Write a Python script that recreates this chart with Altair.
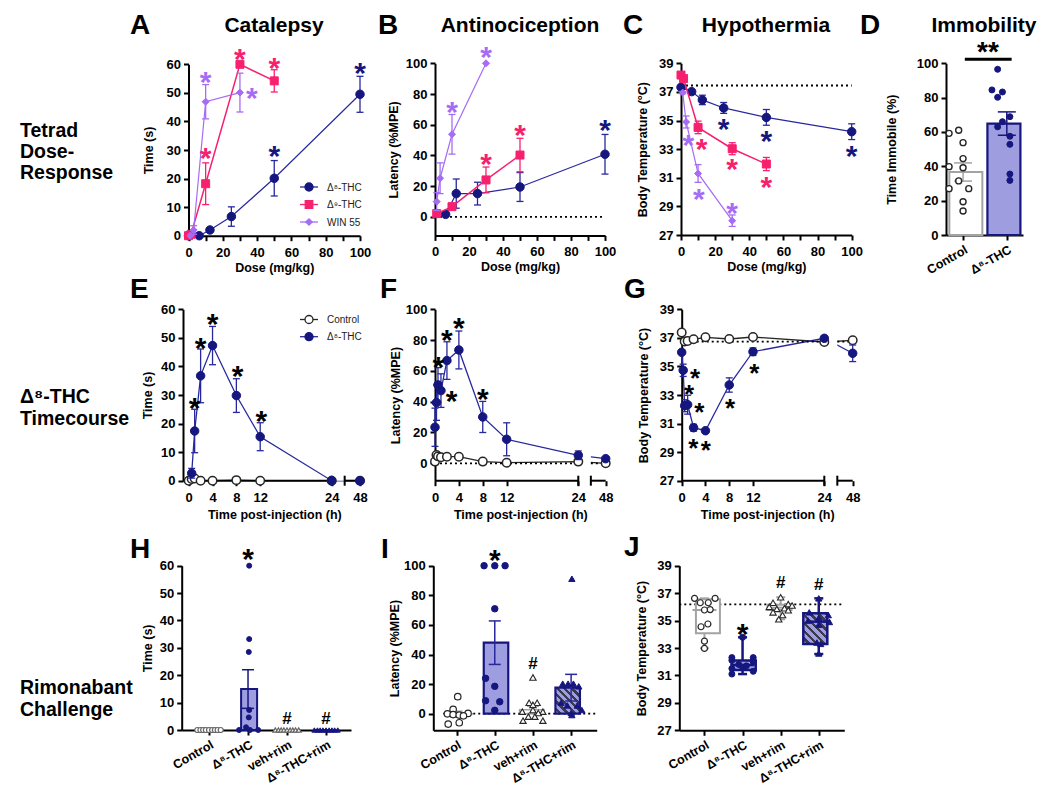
import altair as alt
import pandas as pd

# ======================================================================
# DATA
# ======================================================================
A_d8_dose = [0, 6.25, 12.5, 25, 50, 100]
A_d8_mean = [0, 0, 2.0, 6.7, 20.1, 49.5]
A_d8_sem = [0, 0, 0.4, 3.4, 6.2, 6.3]
A_d9_dose = [0, 1.5, 10, 30, 50]
A_d9_mean = [0, 0.5, 18.2, 60.0, 54.2]
A_d9_sem = [0, 0, 7.3, 0, 3.9]
A_win_dose = [1, 3, 10, 30]
A_win_mean = [0, 2.0, 46.9, 50.1]
A_win_sem = [0, 1.5, 6.0, 6.8]
A_star_d8_x, A_star_d8_y = [50, 100], [30.3, 59.5]
A_star_d9_x, A_star_d9_y = [10, 30, 50], [29.5, 64.4, 61.3]
A_star_win_x, A_star_win_y = [10, 37], [56.3, 50.8]

B_d8_dose = [6.25, 12.5, 25, 50, 100]
B_d8_mean = [1.7, 15.2, 15.2, 19.5, 40.8]
B_d8_sem = [0.5, 9.5, 7.4, 9.4, 12.9]
B_d9_dose = [1, 10, 30, 50]
B_d9_mean = [2.2, 6.7, 24.1, 40.3]
B_d9_sem = [0, 1.5, 8.4, 10.9]
B_win_dose = [1, 3, 10, 30]
B_win_mean = [10.0, 25.2, 53.8, 100.0]
B_win_sem = [5.8, 10.0, 12.9, 0]
B_star_d8_x, B_star_d8_y = [100], [61.0]
B_star_d9_x, B_star_d9_y = [30, 50], [39.3, 57.7]
B_star_win_x, B_star_win_y = [10, 30], [72.9, 108.7]

C_d8_dose = [0, 6.25, 12.5, 25, 50, 100]
C_d8_mean = [37.32, 37.02, 36.44, 35.88, 35.22, 34.22]
C_d8_sem = [0.08, 0.08, 0.33, 0.38, 0.55, 0.55]
C_d9_dose = [0, 1.5, 10, 30, 50]
C_d9_mean = [38.18, 37.93, 34.52, 33.03, 31.96]
C_d9_sem = [0.08, 0.08, 0.44, 0.42, 0.46]
C_win_dose = [1, 3, 10, 30]
C_win_mean = [36.95, 34.9, 31.3, 28.0]
C_win_sem = [0.08, 0.42, 0.62, 0.4]
C_baseline = 37.45
C_star_d8_x, C_star_d8_y = [25, 50, 100], [34.9, 34.04, 33.0]
C_star_d9_x, C_star_d9_y = [12, 30, 50], [33.5, 32.1, 30.85]
C_star_win_x, C_star_win_y = [4.3, 10.5, 30], [33.75, 30.0, 29.0]

D_groups = ["Control", "Δ⁸-THC"]
D_mean = [36.7, 64.9]
D_sem = [5.3, 6.8]
D_ctrl = [59.2, 61.0, 53.8, 44.5, 39.8, 39.2, 31.5, 27.0, 27.0, 19.4, 14.0]
D_ctrl_jit = [-0.32, -0.1, 0.0, 0.0, -0.32, 0.0, -0.1, -0.32, 0.13, 0.0, 0.0]
D_thc = [96.5, 84.5, 83.3, 80.2, 68.9, 66.0, 63.0, 57.5, 52.8, 35.5, 31.8]
D_thc_jit = [-0.21, -0.34, -0.1, -0.21, 0.07, -0.1, -0.21, 0.07, 0.07, 0.07, 0.07]
D_sig_y = 102.3
D_sig_label_y = 110.2

TIME_TICKS = [0, 4, 8, 12, 24, 48]
E_d8_t = [0.5, 1, 2, 4, 8, 12, 24, 48]
E_d8_mean = [2.6, 17.4, 36.7, 47.3, 29.8, 15.4, 0, 0]
E_d8_sem = [1.7, 7.6, 9.4, 6.7, 5.9, 4.9, 0, 0]
E_ct_t = [0, 0.5, 1, 2, 4, 8, 12, 24, 48]
E_ct_mean = [0, 0.6, 0.8, 0, 0, 0.2, 0, 0, 0]
E_ct_sem = [0, 0, 0, 0, 0, 0, 0, 0, 0]
E_star_x, E_star_y = [1, 2, 4, 8.2, 12.2], [27.9, 48.9, 57.4, 39.0, 23.3]

F_d8_t = [0, 0.25, 0.5, 1, 2, 4, 8, 12, 24, 48]
F_d8_mean = [23.4, 39.4, 50.9, 47.2, 66.7, 73.6, 30.1, 15.6, 5.2, 3.0]
F_d8_sem = [12.4, 11.5, 11.2, 10.9, 12.2, 12.3, 10.1, 10.7, 2.8, 0.6]
F_ct_t = [0, 0.25, 0.5, 1, 2, 4, 8, 12, 24, 48]
F_ct_mean = [1.1, 5.4, 4.5, 3.9, 4.3, 4.3, 1.1, 0.4, 1.1, 0]
F_ct_sem = [0, 0, 0, 0, 0, 0, 0, 0, 0, 0]
F_star_x, F_star_y = [0.56, 2.0, 4.0, 2.8, 8.0], [67.1, 84.8, 92.6, 45.0, 46.5]

G_d8_t = [0, 0.25, 0.5, 1, 2, 4, 8, 12, 24, 48]
G_d8_mean = [35.99, 34.73, 32.25, 32.32, 30.71, 30.5, 33.7, 36.03, 36.97, 35.92]
G_d8_sem = [0.05, 0.43, 0.42, 0.66, 0.24, 0.08, 0.5, 0.26, 0.08, 0.58]
G_ct_t = [0, 0.5, 1, 2, 4, 8, 12, 24, 48]
G_ct_mean = [37.37, 36.75, 36.78, 36.9, 37.04, 36.92, 37.06, 36.71, 36.83]
G_ct_sem = [0, 0, 0, 0, 0, 0, 0, 0, 0]
G_baseline = 36.74
G_star_x = [2.24, 1.23, 2.97, 1.96, 4.04, 8.13, 12.2]
G_star_y = [34.6, 33.47, 32.25, 29.68, 29.54, 32.53, 34.98]

RIM_groups = ["Control", "Δ⁸-THC", "veh+rim", "Δ⁸-THC+rim"]
H_mean = [0, 14.96, 0, 0]
H_sem = [0, 7.05, 0, 0]
H_ctrl = [0, 0, 0, 0, 0, 0, 0, 0, 0]
H_ctrl_jit = [-0.3, -0.22, -0.15, -0.08, 0.0, 0.08, 0.15, 0.22, 0.3]
H_thc = [60, 33.2, 28.5, 7.3, 4.6, 1.0, 0, 0, 0]
H_thc_jit = [0.03, 0.03, 0.02, 0.03, 0.02, -0.05, -0.23, 0.05, 0.26]
H_veh = [0, 0, 0, 0, 0, 0, 0, 0, 0]
H_veh_jit = [-0.3, -0.22, -0.15, -0.08, 0.0, 0.08, 0.15, 0.22, 0.3]
H_thcrim = [0, 0, 0, 0, 0, 0, 0, 0, 0]
H_thcrim_jit = [-0.3, -0.22, -0.15, -0.08, 0.0, 0.08, 0.15, 0.22, 0.3]
H_star = (1, 65.1)
H_hash_x, H_hash_y = [2, 3], [4.5, 4.5]

I_mean = [-0.2, 48.0, 2.6, 17.6]
I_sem = [1.9, 14.7, 2.4, 9.0]
I_ctrl = [11.5, 2.9, 0.2, -0.1, -0.6, -0.9, -1.4, -6.1, -7.0]
I_ctrl_jit = [0.03, -0.09, 0.3, -0.24, -0.09, 0.07, 0.18, 0.07, -0.22]
I_thc = [100, 100, 100, 70.9, 23.9, 18.5, 8.8, 8.1, 2.3]
I_thc_jit = [-0.28, 0.0, 0.27, 0.0, -0.24, 0.0, -0.24, 0.13, 0.0]
I_veh = [24.5, 7.4, 7.4, 6.0, 2.5, 1.4, 1.4, 0.5, -2.0, -2.0, -4.7, -4.7]
I_veh_jit = [0.0, -0.1, 0.11, 0.0, 0.0, -0.28, 0.26, 0.14, -0.12, 0.05, -0.26, 0.26]
I_thcrim = [91.2, 20.3, 20.3, 20.3, 18.5, 7.5, 5.6, 5.6, 2.5, 0.5, -0.9]
I_thcrim_jit = [0.02, -0.22, -0.08, 0.06, 0.2, -0.26, -0.1, 0.16, 0.28, 0.0, 0.02]
I_star = (1, 108.8)
I_hash = (2, 34.0)

J_q1 = [34.07, 31.4, 35.77, 33.29]
J_med = [35.77, 31.76, 35.94, 34.92]
J_q3 = [36.55, 32.08, 36.16, 35.53]
J_min = [32.98, 31.1, 35.09, 32.56]
J_max = [36.62, 33.78, 36.7, 36.62]
J_ctrl = [36.62, 36.3, 36.3, 36.62, 35.8, 35.77, 34.55, 34.75, 33.5, 32.97]
J_ctrl_jit = [-0.26, -0.11, 0.1, 0.28, 0.15, 0.0, -0.09, 0.09, 0.0, 0.0]
J_thc = [33.78, 32.3, 32.3, 32.1, 32.0, 31.8, 31.7, 31.6, 31.5, 31.3, 31.1]
J_thc_jit = [0.0, -0.28, 0.28, -0.28, 0.28, -0.1, 0.1, 0.0, -0.28, 0.28, -0.28]
J_veh = [36.7, 36.3, 36.2, 36.1, 36.0, 35.9, 35.85, 35.75, 35.6, 35.4, 35.1]
J_veh_jit = [0.0, -0.2, 0.2, 0.3, -0.3, 0.1, -0.1, 0.2, -0.2, 0.05, -0.05]
J_thcrim = [36.62, 35.6, 35.4, 35.2, 35.0, 34.9, 34.7, 33.4, 33.3, 32.6]
J_thcrim_jit = [0.0, -0.25, 0.25, 0.0, -0.28, 0.28, 0.0, -0.05, 0.05, 0.0]
J_baseline = 36.18
J_star = (1, 34.55)
J_hash_x, J_hash_y = [2, 3], [37.79, 37.66]

# ======================================================================
# STYLE / LAYOUT
# ======================================================================
W, H = 1034, 777
M = 8
FONT = "Liberation Sans"
NAVY = "#16167f"
NAVY_LINE = "#28289e"
PINK = "#f7206f"
PURPLE = "#a66cf4"
LAV = "#9d9ddf"
HATCH_DARK = "#3a3a4c"
GRAY = "#a3a3a3"
DARK = "#262626"
STAR_FS = 30
STAR_DY = 8
HASH_FS = 17

ONE = pd.DataFrame({"k": [0]})


def P(v):
    return v - M


AXIS_STYLE = dict(grid=False, domainColor="black", domainWidth=2, tickColor="black", tickWidth=2,
                  tickSize=5, labelFont=FONT, labelFontWeight="bold", labelFontSize=13,
                  labelColor="black", titleFont=FONT, titleFontWeight="bold", titleFontSize=12.5,
                  titleColor="black", labelFlush=False, labelOverlap=False)


def xax(title, values, axis_y, **kw):
    st = dict(AXIS_STYLE, labelPadding=5.5, titlePadding=2)
    st.update(kw)
    return alt.Axis(title=title, values=values, orient="bottom", offset=P(axis_y) - H, **st)


def yax(title, values, axis_x, **kw):
    st = dict(AXIS_STYLE, labelPadding=3, titlePadding=6)
    st.update(kw)
    return alt.Axis(title=title, values=values, orient="left", offset=-P(axis_x), **st)


class Panel:
    def __init__(self, xdom, xpx, ydom, ypx):
        self.xdom, self.ydom = xdom, ydom
        self.xsc = alt.Scale(domain=xdom, range=[P(v) for v in xpx], nice=False, zero=False)
        self.ysc = alt.Scale(domain=ydom, range=[P(v) for v in ypx], nice=False, zero=False)
        self.layers = []

    def X(self, f="x", axis=None):
        return alt.X(f, type="quantitative", scale=self.xsc, axis=axis)

    def Y(self, f="y", axis=None):
        return alt.Y(f, type="quantitative", scale=self.ysc, axis=axis)

    def add(self, *cs):
        for c in cs:
            if isinstance(c, list):
                self.layers.extend(c)
            else:
                self.layers.append(c)

    def axes(self, xaxis, yaxis):
        df = pd.DataFrame({"x": [self.xdom[0]], "y": [self.ydom[0]]})
        self.add(alt.Chart(df).mark_point(opacity=0).encode(x=self.X("x", xaxis), y=self.Y("y", yaxis)))


def errbars(pn, df, color, cap, w=1.3):
    if len(df) == 0:
        return []
    return [
        alt.Chart(df).mark_rule(color=color, strokeWidth=w).encode(x=pn.X(), y=pn.Y("lo"), y2="hi"),
        alt.Chart(df).mark_tick(orient="horizontal", size=cap, thickness=w, color=color, opacity=1)
        .encode(x=pn.X(), y=pn.Y("lo")),
        alt.Chart(df).mark_tick(orient="horizontal", size=cap, thickness=w, color=color, opacity=1)
        .encode(x=pn.X(), y=pn.Y("hi")),
    ]


def series(pn, xs, means, sems, color, shape, size, fill=None, stroke=None, line_color=None,
           line_w=1.3, sw=1.0, cap=7, err_color=None):
    df = pd.DataFrame({"x": xs, "y": means,
                       "lo": [m - s for m, s in zip(means, sems)],
                       "hi": [m + s for m, s in zip(means, sems)], "s": sems})
    line = alt.Chart(df).mark_line(color=line_color or color, strokeWidth=line_w).encode(x=pn.X(), y=pn.Y())
    errs = errbars(pn, df[df.s > 0], err_color or line_color or color, cap)
    pts = alt.Chart(df).mark_point(shape=shape, size=size, filled=True, fill=fill or color,
                                   stroke=stroke or color, strokeWidth=sw, opacity=1
                                   ).encode(x=pn.X(), y=pn.Y())
    return line, errs, pts


def sym_text(pn, xs, ys, sym, color="black", size=STAR_FS, dy=STAR_DY):
    df = pd.DataFrame({"x": xs, "y": ys})
    return alt.Chart(df).mark_text(text=sym, font=FONT, fontWeight="bold", fontSize=size, color=color,
                                   baseline="middle", align="center", dy=dy).encode(x=pn.X(), y=pn.Y())


def hline(pn, x0, x1, y, dash=True, width=1.8, color="black"):
    df = pd.DataFrame({"x": [x0], "x2": [x1], "y": [y]})
    kw = dict(color=color, strokeWidth=width)
    if dash:
        kw["strokeDash"] = [2, 3]
    return alt.Chart(df).mark_rule(**kw).encode(x=pn.X("x"), x2="x2", y=pn.Y("y"))


def bars(pn, cats, means, width, fill, stroke, sw):
    df = pd.DataFrame({"x": cats, "y": means, "b": [0 for _ in cats]})
    return alt.Chart(df).mark_bar(size=width, fill=fill, stroke=stroke, strokeWidth=sw, opacity=1
                                  ).encode(x=pn.X(), y=pn.Y(), y2="b")


def scatter(pn, cat, vals, jit, shape, size, fill, stroke, sw=1.2):
    df = pd.DataFrame({"x": [cat + j for j in jit], "y": vals})
    return alt.Chart(df).mark_point(shape=shape, size=size, filled=True, fill=fill, stroke=stroke,
                                    strokeWidth=sw, opacity=1).encode(x=pn.X(), y=pn.Y())


def bar_err(pn, cats, means, sems, color, cap):
    df = pd.DataFrame({"x": cats, "lo": [m - s for m, s in zip(means, sems)],
                       "hi": [m + s for m, s in zip(means, sems)], "s": sems})
    return errbars(pn, df[df.s > 0], color, cap, 1.5)


def hatch(w, h, period=5.2, c1=LAV, c2=HATCH_DARK):
    k = max(1, round(((w + h) / 2 ** 0.5) / period))
    stops = []
    for i in range(k):
        a, b, c = i / k, (i + 0.55) / k, (i + 1) / k
        stops += [alt.GradientStop(offset=a, color=c1), alt.GradientStop(offset=b, color=c1),
                  alt.GradientStop(offset=b, color=c2), alt.GradientStop(offset=c, color=c2)]
    t = (w + h) / (w * w + h * h)
    return alt.LinearGradient(gradient="linear", stops=stops, x1=0, y1=1, x2=w * t, y2=1 - h * t)


def label(s, x, y, size, weight="bold", align="left", baseline="alphabetic", color="black",
          line_height=None):
    kw = dict(text=s, font=FONT, fontSize=size, fontWeight=weight, align=align, baseline=baseline,
              color=color)
    if line_height:
        kw["lineHeight"] = line_height
    return alt.Chart(ONE).mark_text(**kw).encode(x=alt.value(P(x)), y=alt.value(P(y)))


def legend_entry(x0, x1, y, text, shape, size, fill, stroke, line_color):
    rule = alt.Chart(ONE).mark_rule(color=line_color, strokeWidth=1.3).encode(
        x=alt.value(P(x0)), x2=alt.value(P(x1)), y=alt.value(P(y)))
    pt = alt.Chart(ONE).mark_point(shape=shape, size=size, filled=True, fill=fill, stroke=stroke,
                                   strokeWidth=1.3, opacity=1).encode(
        x=alt.value(P((x0 + x1) / 2)), y=alt.value(P(y)))
    tx = label(text, x1 + 9, y + 0.5, 10, weight="normal", baseline="middle", color="#222222")
    return [rule, pt, tx]


DOSE_TICKS = list(range(0, 101, 10))
DOSE_EXPR = "datum.value % 20 == 0 ? datum.label : ''"
RIM_EXPR = "['Control','Δ⁸-THC','veh+rim','Δ⁸-THC+rim'][datum.value]"
ROT = dict(labelAngle=-30, labelAlign="right", labelBaseline="top", labelPadding=3, labelFontSize=12.5)

panels = []

# ---------------------------------------------------------------- A
pa = Panel([0, 100], [188.5, 360], [0, 60], [235.7, 64.3])
pa.axes(xax("Dose (mg/kg)", DOSE_TICKS, 235.7, labelExpr=DOSE_EXPR),
        yax("Time (s)", list(range(0, 61, 10)), 188.5, titlePadding=11))
for d in [series(pa, A_d8_dose, A_d8_mean, A_d8_sem, NAVY, "circle", 72, line_color=NAVY_LINE, line_w=1.2),
          series(pa, A_d9_dose, A_d9_mean, A_d9_sem, PINK, "square", 64, line_w=1.5),
          series(pa, A_win_dose, A_win_mean, A_win_sem, PURPLE, "diamond", 49, line_w=1.2)]:
    pa.add(d[0], d[1], d[2])
pa.add(sym_text(pa, A_star_d8_x, A_star_d8_y, "*", NAVY),
       sym_text(pa, A_star_d9_x, A_star_d9_y, "*", PINK),
       sym_text(pa, A_star_win_x, A_star_win_y, "*", PURPLE))
panels.append(pa)

# ---------------------------------------------------------------- B
pb = Panel([0, 100], [435, 605], [-12, 100], [235.4, 63.3])
pb.axes(xax("Dose (mg/kg)", DOSE_TICKS, 235.4, labelExpr=DOSE_EXPR),
        yax("Latency (%MPE)", list(range(0, 101, 20)), 435, titlePadding=5))
pb.add(hline(pb, 0, 100, 0))
for d in [series(pb, B_d8_dose, B_d8_mean, B_d8_sem, NAVY, "circle", 72, line_color=NAVY_LINE, line_w=1.2),
          series(pb, B_d9_dose, B_d9_mean, B_d9_sem, PINK, "square", 64, line_w=1.5),
          series(pb, B_win_dose, B_win_mean, B_win_sem, PURPLE, "diamond", 49, line_w=1.2)]:
    pb.add(d[0], d[1], d[2])
pb.add(sym_text(pb, B_star_d8_x, B_star_d8_y, "*", NAVY),
       sym_text(pb, B_star_d9_x, B_star_d9_y, "*", PINK),
       sym_text(pb, B_star_win_x, B_star_win_y, "*", PURPLE))
panels.append(pb)

# ---------------------------------------------------------------- C
pc = Panel([0, 100], [681, 851.7], [27, 39], [235, 63.3])
pc.axes(xax("Dose (mg/kg)", DOSE_TICKS, 235, labelExpr=DOSE_EXPR),
        yax("Body Temperature (°C)", list(range(27, 40, 2)), 681, titlePadding=9))
pc.add(hline(pc, 0, 100, C_baseline))
for d in [series(pc, C_d8_dose, C_d8_mean, C_d8_sem, NAVY, "circle", 72, line_color=NAVY_LINE, line_w=1.2),
          series(pc, C_d9_dose, C_d9_mean, C_d9_sem, PINK, "square", 64, line_w=1.5),
          series(pc, C_win_dose, C_win_mean, C_win_sem, PURPLE, "diamond", 49, line_w=1.2)]:
    pc.add(d[0], d[1], d[2])
pc.add(sym_text(pc, C_star_d8_x, C_star_d8_y, "*", NAVY),
       sym_text(pc, C_star_d9_x, C_star_d9_y, "*", PINK),
       sym_text(pc, C_star_win_x, C_star_win_y, "*", PURPLE))
panels.append(pc)

# ---------------------------------------------------------------- D
pd_ = Panel([-0.39, 1.37], [946, 1023], [0, 100], [235, 63.3])
pd_.axes(xax("", [0, 1], 235, labelExpr="datum.value == 0 ? 'Control' : 'Δ⁸-THC'", **ROT),
         yax("Time Immobile (%)", list(range(0, 101, 20)), 946, titlePadding=18))
pd_.add(bars(pd_, [0], [D_mean[0]], 33, "white", GRAY, 2),
        bars(pd_, [1], [D_mean[1]], 33, LAV, NAVY, 2.2),
        bar_err(pd_, [0], [D_mean[0]], [D_sem[0]], GRAY, 18),
        bar_err(pd_, [1], [D_mean[1]], [D_sem[1]], NAVY, 18),
        scatter(pd_, 0, D_ctrl, D_ctrl_jit, "circle", 36, "white", DARK, 1.4),
        scatter(pd_, 1, D_thc, D_thc_jit, "circle", 36, NAVY, NAVY, 1),
        hline(pd_, 0.04, 1.11, D_sig_y, dash=False, width=3),
        sym_text(pd_, [0.57], [D_sig_label_y], "**", size=28, dy=7))
panels.append(pd_)


# ---------------------------------------------------------------- E/F/G (time courses)
def timecourse(pn, axis_start, baseline=None):
    y0 = pn.ydom[0]
    seg = pd.DataFrame({"x": [axis_start, 35], "x2": [24, 48], "y": [y0, y0]})
    gap = pd.DataFrame({"x": [25], "x2": [35], "y": [pn.ydom[0]], "y2": [pn.ydom[1]]})
    ends = pd.DataFrame({"x": [24, 35], "y": [y0, y0]})
    layers = [alt.Chart(gap).mark_rect(color="white", opacity=1).encode(x=pn.X("x"), x2="x2", y=pn.Y("y"), y2="y2")]
    if baseline is not None:
        layers.append(hline(pn, 0, 24, baseline))
        layers.append(hline(pn, 35, 48, baseline))
    layers.append(alt.Chart(seg).mark_rule(color="black", strokeWidth=2).encode(x=pn.X("x"), x2="x2", y=pn.Y("y")))
    layers.append(alt.Chart(ends).mark_tick(orient="vertical", size=10, thickness=2, color="black", opacity=1)
                  .encode(x=pn.X(), y=pn.Y()))
    return layers


def add_timecourse(pn, ct, d8, axis_start, baseline, stars):
    c_line, c_err, c_pts = ct
    d_line, d_err, d_pts = d8
    pn.add(c_line, d_line)
    pn.add(timecourse(pn, axis_start, baseline))
    pn.add(c_err, c_pts, d_err, d_pts, stars)


TP = dict(domain=False, titlePadding=4, labelPadding=6)

pe = Panel([0, 24, 48], [188.7, 331.7, 360], [0, 60], [480.7, 309.3])
pe.axes(xax("Time post-injection (h)", TIME_TICKS, 480.7, **TP),
        yax("Time (s)", list(range(0, 61, 10)), 183, titlePadding=6))
add_timecourse(pe,
               series(pe, E_ct_t, E_ct_mean, E_ct_sem, "white", "circle", 72, fill="white", stroke=DARK,
                      line_color=DARK, sw=1.5),
               series(pe, E_d8_t, E_d8_mean, E_d8_sem, NAVY, "circle", 72, line_color=NAVY_LINE),
               -0.96, None, sym_text(pe, E_star_x, E_star_y, "*"))
pe.add(legend_entry(300, 318, 319.5, "Control", "circle", 64, "white", DARK, DARK))
pe.add(legend_entry(300, 318, 336.7, "Δ⁸-THC", "circle", 64, NAVY, NAVY, NAVY_LINE))
panels.append(pe)

pf = Panel([0, 24, 48], [435, 578.3, 605.7], [-11.3, 100], [480.7, 309.3])
pf.axes(xax("Time post-injection (h)", TIME_TICKS, 480.7, **TP),
        yax("Latency (%MPE)", list(range(0, 101, 20)), 435, titlePadding=3))
add_timecourse(pf,
               series(pf, F_ct_t, F_ct_mean, F_ct_sem, "white", "circle", 72, fill="white", stroke=DARK,
                      line_color=DARK, sw=1.5),
               series(pf, F_d8_t, F_d8_mean, F_d8_sem, NAVY, "circle", 72, line_color=NAVY_LINE),
               0, 0, sym_text(pf, F_star_x, F_star_y, "*"))
panels.append(pf)

pg = Panel([0, 24, 48], [681.7, 824.3, 852.7], [27, 39], [480.7, 309.3])
pg.axes(xax("Time post-injection (h)", TIME_TICKS, 480.7, **TP),
        yax("Body Temperature (°C)", list(range(27, 40, 2)), 681.7, titlePadding=9))
add_timecourse(pg,
               series(pg, G_ct_t, G_ct_mean, G_ct_sem, "white", "circle", 72, fill="white", stroke=DARK,
                      line_color=DARK, sw=1.5),
               series(pg, G_d8_t, G_d8_mean, G_d8_sem, NAVY, "circle", 72, line_color=NAVY_LINE),
               0, G_baseline, sym_text(pg, G_star_x, G_star_y, "*", size=26, dy=7))
panels.append(pg)

# ---------------------------------------------------------------- H
ph = Panel([-0.7, 3.64], [181.7, 351], [0, 60], [730, 565.7])
ph.axes(xax("", [0, 1, 2, 3], 730, labelExpr=RIM_EXPR, **ROT),
        yax("Time (s)", list(range(0, 61, 10)), 181.7, titlePadding=5))
ph.add(bars(ph, [0, 2], [H_mean[0], H_mean[2]], 16, "white", GRAY, 1.5),
       bars(ph, [1, 3], [H_mean[1], H_mean[3]], 16, LAV, NAVY, 2),
       bar_err(ph, [0, 1, 2, 3], H_mean, H_sem, NAVY, 12),
       scatter(ph, 0, H_ctrl, H_ctrl_jit, "circle", 25, "white", "#666666", 1.2),
       scatter(ph, 1, H_thc, H_thc_jit, "circle", 25, NAVY, NAVY, 1),
       scatter(ph, 2, H_veh, H_veh_jit, "triangle-up", 25, "white", "#666666", 1.2),
       scatter(ph, 3, H_thcrim, H_thcrim_jit, "triangle-up", 25, NAVY, NAVY, 1),
       sym_text(ph, [H_star[0]], [H_star[1]], "*"),
       sym_text(ph, H_hash_x, H_hash_y, "#", size=HASH_FS, dy=1))
panels.append(ph)

# ---------------------------------------------------------------- I
pi = Panel([-0.61, 3.67], [433.3, 596.7], [-11.2, 100], [730.3, 565.7])
pi.axes(xax("", [0, 1, 2, 3], 730.3, labelExpr=RIM_EXPR, **ROT),
        yax("Latency (%MPE)", list(range(0, 101, 20)), 433.3, titlePadding=2))
pi.add(hline(pi, -0.35, 3.67, 0),
       bars(pi, [0, 2], [I_mean[0], I_mean[2]], 24.5, "white", GRAY, 1.5),
       bars(pi, [1], [I_mean[1]], 24.5, LAV, NAVY, 2.2),
       bars(pi, [3], [I_mean[3]], 24.5, hatch(24.5, 26), NAVY, 2.2),
       bar_err(pi, [0, 2], [I_mean[0], I_mean[2]], [I_sem[0], I_sem[2]], GRAY, 12),
       bar_err(pi, [1, 3], [I_mean[1], I_mean[3]], [I_sem[1], I_sem[3]], NAVY_LINE, 12),
       scatter(pi, 0, I_ctrl, I_ctrl_jit, "circle", 42, "white", DARK, 1.2),
       scatter(pi, 1, I_thc, I_thc_jit, "circle", 42, NAVY, NAVY, 1),
       scatter(pi, 2, I_veh, I_veh_jit, "triangle-up", 40, "white", DARK, 1.1),
       scatter(pi, 3, I_thcrim, I_thcrim_jit, "triangle-up", 40, NAVY, NAVY, 1),
       sym_text(pi, [I_star[0]], [I_star[1]], "*"),
       sym_text(pi, [I_hash[0]], [I_hash[1]], "#", size=HASH_FS, dy=1))
panels.append(pi)

# ---------------------------------------------------------------- J
pj = Panel([-0.66, 3.67], [679.3, 844.3], [27, 39], [730.3, 565.7])
pj.axes(xax("", [0, 1, 2, 3], 730.3, labelExpr=RIM_EXPR, **ROT),
        yax("Body Temperature (°C)", list(range(27, 40, 2)), 679.3, titlePadding=8))
pj.add(hline(pj, -0.66, 3.67, J_baseline))
box_style = [("white", GRAY, 2), (LAV, NAVY, 2.5), ("white", GRAY, 2), (hatch(24, 30.7), NAVY, 2.5)]
for i, (fill, stroke, sw) in enumerate(box_style):
    wdf = pd.DataFrame({"x": [i, i], "lo": [J_min[i], J_q3[i]], "hi": [J_q1[i], J_max[i]]})
    cdf = pd.DataFrame({"x": [i, i], "y": [J_min[i], J_max[i]]})
    bdf = pd.DataFrame({"x": [i], "lo": [J_q1[i]], "hi": [J_q3[i]], "m": [J_med[i]]})
    pj.add(alt.Chart(wdf).mark_rule(color=stroke, strokeWidth=sw).encode(x=pj.X(), y=pj.Y("lo"), y2="hi"),
           alt.Chart(cdf).mark_tick(orient="horizontal", size=9, thickness=sw, color=stroke, opacity=1)
           .encode(x=pj.X(), y=pj.Y()),
           alt.Chart(bdf).mark_bar(size=24, fill=fill, stroke=stroke, strokeWidth=sw, opacity=1)
           .encode(x=pj.X(), y=pj.Y("lo"), y2="hi"),
           alt.Chart(bdf).mark_tick(orient="horizontal", size=24, thickness=sw, color=stroke, opacity=1)
           .encode(x=pj.X(), y=pj.Y("m")))
pj.add(scatter(pj, 0, J_ctrl, J_ctrl_jit, "circle", 36, "white", DARK, 1.2),
       scatter(pj, 1, J_thc, J_thc_jit, "circle", 36, NAVY, NAVY, 1),
       scatter(pj, 2, J_veh, J_veh_jit, "triangle-up", 40, "white", DARK, 1.1),
       scatter(pj, 3, J_thcrim, J_thcrim_jit, "triangle-up", 40, NAVY, NAVY, 1),
       sym_text(pj, [J_star[0]], [J_star[1]], "*"),
       sym_text(pj, J_hash_x, J_hash_y, "#", size=HASH_FS, dy=1))
panels.append(pj)

# ---------------------------------------------------------------- texts
texts = []
for s, x, y in [("A", 130, 34), ("B", 378, 34), ("C", 623, 34), ("D", 860, 34),
                ("E", 130, 298), ("F", 380, 298), ("G", 624, 298),
                ("H", 130, 558), ("I", 381, 558), ("J", 624, 556)]:
    texts.append(label(s, x, y, 28))
for s, x in [("Catalepsy", 274), ("Antinociception", 520), ("Hypothermia", 766), ("Immobility", 984)]:
    texts.append(label(s, x, 32, 21, align="center"))
texts.append(label(["Tetrad", "Dose-", "Response"], 20, 137, 19.5, line_height=21))
texts.append(label(["Δ⁸-THC", "Timecourse"], 20, 403, 19.5, line_height=22))
texts.append(label(["Rimonabant", "Challenge"], 20, 694, 19.5, line_height=22))
texts += legend_entry(300, 318, 187, "Δ⁸-THC", "circle", 64, NAVY, NAVY, NAVY_LINE)
texts += legend_entry(300, 318, 204.5, "Δ⁹-THC", "square", 56, PINK, PINK, PINK)
texts += legend_entry(300, 318, 222, "WIN 55", "diamond", 40, PURPLE, PURPLE, PURPLE)

all_layers = [l for p in panels for l in p.layers] + texts

chart = (alt.layer(*all_layers)
         .resolve_scale(x="independent", y="independent")
         .properties(width=W, height=H, autosize=alt.AutoSizeParams(type="none"), padding=0)
         .configure_view(stroke="transparent"))

chart.save("out.html", embed_options={"renderer": "svg", "actions": False})
